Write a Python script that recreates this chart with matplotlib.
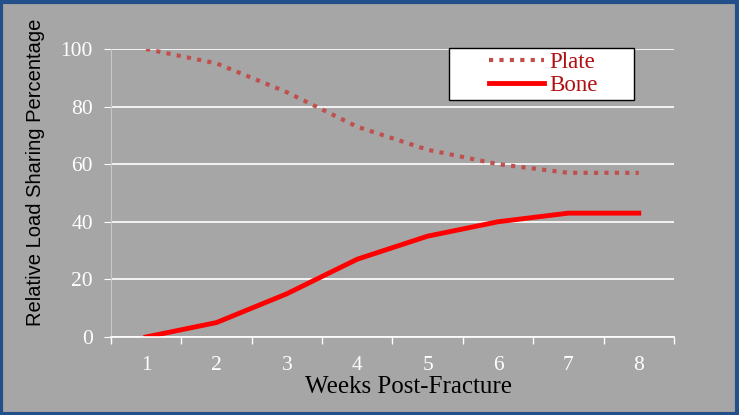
import matplotlib.pyplot as plt
from matplotlib.patches import Rectangle

weeks = [1, 2, 3, 4, 5, 6, 7, 8]
plate = [100, 95, 85, 73, 65, 60, 57, 57]
bone = [0, 5, 15, 27, 35, 40, 43, 43]
y_ticks = [0, 20, 40, 60, 80, 100]

bg = "#a6a6a6"
serif = ["Liberation Serif", "DejaVu Serif"]

fig = plt.figure(figsize=(7.39, 4.15), dpi=100, facecolor=bg)
# blue frame around the whole chart
fig.patches.append(Rectangle((0.002, 0.003), 0.995, 0.993, transform=fig.transFigure,
                             fill=False, edgecolor="#23508a", linewidth=3))

ax = fig.add_axes([0.150, 0.188, 0.762, 0.694])
ax.set_facecolor(bg)

ax.plot(weeks, plate, color="#c0504d", linewidth=3, linestyle=(0, (1, 1.5)), label="Plate")
ax.plot(weeks, bone, color="#ff0000", linewidth=3.5, label="Bone")

ax.set_xlim(0.5, 8.5)
ax.set_ylim(0, 100)
ax.set_yticks(y_ticks)
ax.set_xticks(weeks)
ax.set_xticks([w + 0.5 for w in [0] + weeks], minor=True)
ax.tick_params(axis="x", which="major", length=0, pad=14, labelsize=15.5, labelcolor="white")
ax.tick_params(axis="x", which="minor", length=5, color="white", width=1)
ax.tick_params(axis="y", length=5, color="white", pad=8, labelsize=15.5, labelcolor="white")
for lab in ax.get_xticklabels() + ax.get_yticklabels():
    lab.set_family(serif)

ax.grid(axis="y", color="white", linewidth=1.2)
ax.set_axisbelow(True)
for s in ["top", "right"]:
    ax.spines[s].set_visible(False)
ax.spines["left"].set_color("#c8c8c8")
ax.spines["bottom"].set_color("white")
ax.spines["bottom"].set_linewidth(1.2)

ax.set_xlabel("Weeks Post-Fracture", family=serif, fontsize=18, color="black")
ax.xaxis.set_label_coords(0.528, -0.135)
ax.set_ylabel("Relative Load Sharing Percentage", family=["Liberation Sans", "DejaVu Sans"],
              fontsize=14.5, color="black")
ax.yaxis.set_label_coords(-0.117, 0.573)

# legend box
ax.add_patch(Rectangle((0.600, 0.823), 0.329, 0.180, transform=ax.transAxes,
                       facecolor="white", edgecolor="black", linewidth=1, zorder=5, clip_on=False))
leg = ax.legend(loc="center", bbox_to_anchor=(0.768, 0.913), frameon=False, handlelength=2.4,
                borderpad=0, labelspacing=0.12, handletextpad=0.25, borderaxespad=0,
                prop={"family": serif, "size": 16.5})
leg.set_zorder(6)
for t in leg.get_texts():
    t.set_color("#b01010")

fig.savefig("out.png", dpi=100, facecolor=bg)
